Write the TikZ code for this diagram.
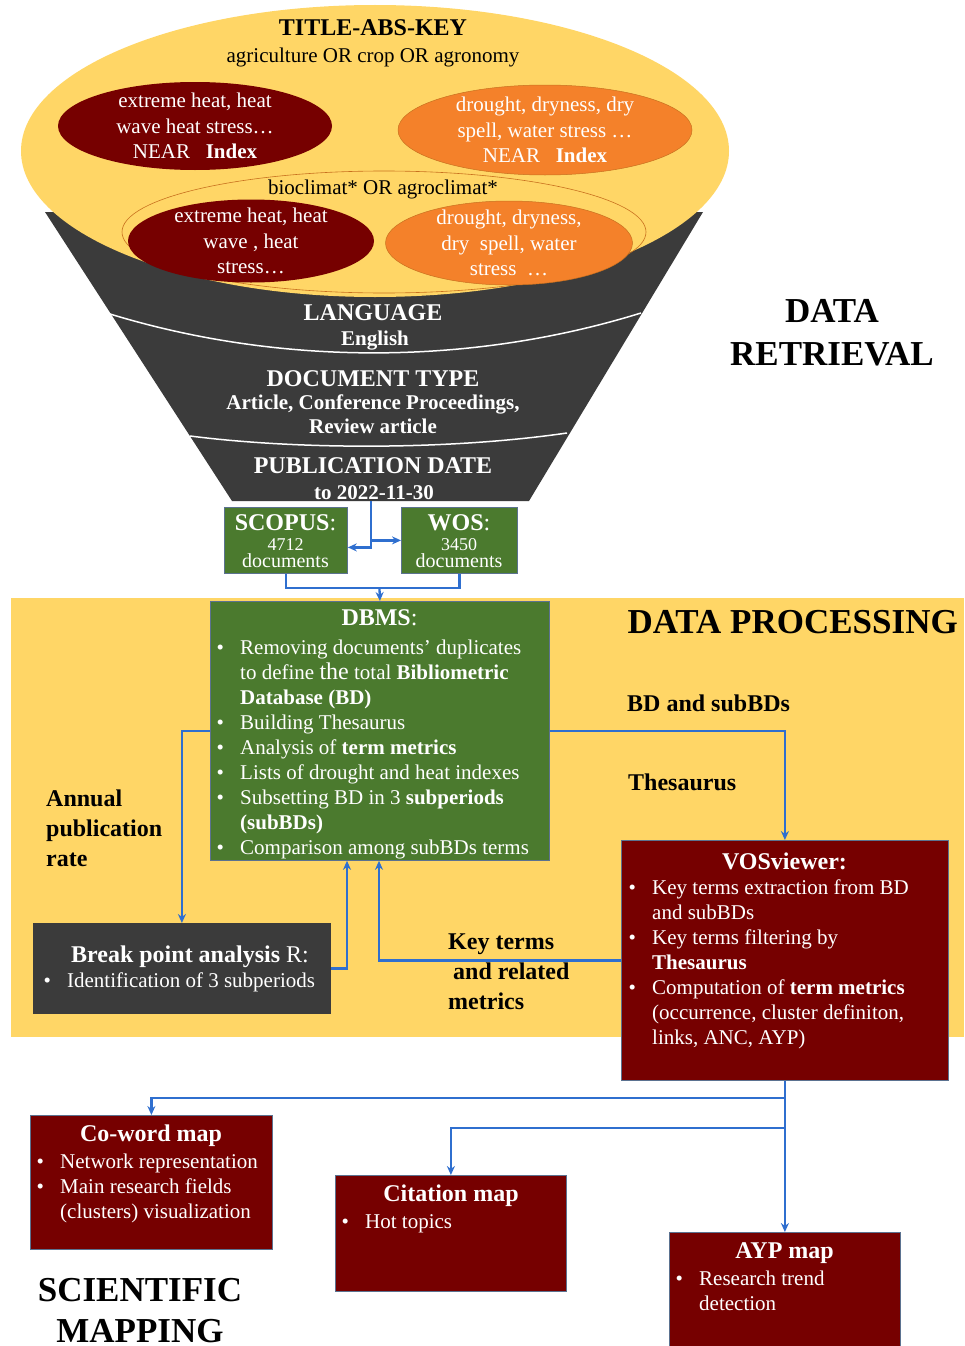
\documentclass[tikz,border=0pt]{standalone}
\usepackage{fontspec}
\setmainfont{Liberation Serif}
\usetikzlibrary{arrows.meta,shapes.geometric,calc}
\definecolor{yel}{HTML}{FFD666}
\definecolor{org}{HTML}{F4812A}
\definecolor{orgb}{HTML}{C8701E}
\definecolor{dred}{HTML}{760000}
\definecolor{grn}{HTML}{4B7A2E}
\definecolor{dgray}{HTML}{3B3B3B}
\definecolor{blu}{HTML}{2F6FCF}
\definecolor{bord}{HTML}{5B7290}
\newlength{\bulw}\setlength{\bulw}{23.5pt}
\newcommand{\bul}{\makebox[\bulw][l]{\textbullet}}
\newcommand{\ind}{\hspace*{\bulw}}
\begin{document}
\begin{tikzpicture}[x=1pt,y=-1pt,
  body/.style={inner sep=0,text=white,align=left,anchor=north west,font=\fontsize{21}{25}\selectfont},
  ttl/.style={inner sep=0,text=white,anchor=base,font=\fontsize{24}{28}\selectfont},
  etxt/.style={inner sep=0,text=white,align=center,font=\fontsize{21}{25.5}\selectfont},
  ftxt/.style={inner sep=0,text=white,anchor=base,font=\bfseries\fontsize{24}{28}\selectfont},
  fsub/.style={inner sep=0,text=white,anchor=base,font=\bfseries\fontsize{21}{25}\selectfont},
  lbl/.style={inner sep=0,text=black,font=\bfseries\fontsize{24}{30}\selectfont},
  big/.style={inner sep=0,text=black,font=\bfseries\fontsize{35}{43}\selectfont},
  box/.style={draw=bord,line width=0.8pt,anchor=north west,inner sep=0},
  ell/.style={ellipse,inner sep=0},
  arr/.style={draw=blu,line width=2.3pt,-{Stealth[length=9pt,width=8pt]}},
  ln/.style={draw=blu,line width=2.3pt},
  sep/.style={draw=white,line width=1.5pt}]
\useasboundingbox (0,0) rectangle (964,1346);

% ---------- DATA RETRIEVAL funnel ----------
\fill[dgray] (45,212) -- (703,212) -- (529,501) -- (232,501) -- cycle;
\draw[sep] (110,314) .. controls (280,366) and (470,366) .. (641,313);
\draw[sep] (190,436) .. controls (300,450) and (450,450) .. (567,433);

\node[ell,fill=yel,minimum width=708pt,minimum height=292pt] (top) at (375,151) {};
\node[ell,draw=orgb,line width=0.6pt,minimum width=524pt,minimum height=122pt] (inner) at (384,232) {};
\node[ell,fill=dred,minimum width=274pt,minimum height=88pt] (e1) at (195,126) {};
\node[ell,fill=org,draw=orgb,line width=0.5pt,minimum width=294pt,minimum height=90pt] (e2) at (545,130) {};
\node[ell,fill=dred,minimum width=246pt,minimum height=83pt] (e3) at (251,241) {};
\node[ell,fill=org,draw=orgb,line width=0.5pt,minimum width=247pt,minimum height=84pt] (e4) at (509,243) {};

\node[inner sep=0,anchor=base,font=\bfseries\fontsize{24}{28}\selectfont] (tak) at (373,36) {TITLE-ABS-KEY};
\node[inner sep=0,anchor=base,font=\fontsize{21}{25}\selectfont] (agr) at (373,63) {agriculture OR crop OR agronomy};
\node[inner sep=0,anchor=base,font=\fontsize{21}{25}\selectfont] (bio) at (383,194) {bioclimat* OR agroclimat*};

\node[etxt] (e1t) at (195,126) {extreme heat, heat\\wave heat stress…\\NEAR\ \ \ \textbf{Index}};
\node[etxt] (e2t) at (545,130) {drought, dryness, dry\\spell, water stress …\\NEAR\ \ \ \textbf{Index}};
\node[etxt] (e3t) at (251,241) {extreme heat, heat\\wave , heat\\stress…};
\node[etxt] (e4t) at (509,243) {drought, dryness,\\dry\ \ spell, water\\stress \ …};

\node[ftxt] (lang) at (373,320) {LANGUAGE};
\node[fsub] (eng) at (375,345) {English};
\node[ftxt] (dtype) at (373,386) {DOCUMENT TYPE};
\node[fsub] (art) at (373,409) {Article, Conference Proceedings,};
\node[fsub] (rev) at (373,433) {Review article};
\node[ftxt] (pdate) at (373,473) {PUBLICATION DATE};
\node[fsub] (todate) at (374,499) {to 2022-11-30};

\node[big,align=center] (dr) at (832,333) {DATA\\RETRIEVAL};

\coordinate (fb) at (371,501);

% ---------- SCOPUS / WOS ----------
\node[box,fill=grn,minimum width=123pt,minimum height=66pt] (scopus) at (224,507) {};
\node[box,fill=grn,minimum width=116pt,minimum height=66pt] (wos) at (401,507) {};
\node[inner sep=0,text=white,align=center,anchor=north,font=\fontsize{20}{17}\selectfont] (scopust) at (285.5,514)
  {{\fontsize{24}{24}\selectfont\textbf{SCOPUS}:}\\[3pt]{\fontsize{18}{18}\selectfont 4712}\\documents};
\node[inner sep=0,text=white,align=center,anchor=north,font=\fontsize{20}{17}\selectfont] (wost) at (459,514)
  {{\fontsize{24}{24}\selectfont\textbf{WOS}:}\\[3pt]{\fontsize{18}{18}\selectfont 3450}\\documents};

\draw[arr] (fb) |- ([yshift=-7pt]scopus.east);
\draw[arr] (fb) |- (wos.west);

% ---------- DATA PROCESSING ----------
\fill[yel] (11,598) rectangle (964,1037);
\node[big,anchor=base east] (dp) at (958,633) {DATA PROCESSING};

\node[box,fill=grn,minimum width=339pt,minimum height=259pt] (dbms) at (210,601) {};
\coordinate (jn) at (379.5,588);
\draw[ln] (scopus.south) |- (jn) -| (wos.south);
\draw[arr] (jn) -- (dbms.north);

\node[ttl] (dbmst) at (379.5,625) {\textbf{DBMS}:};
\node[body] (dbmsi) at (216.5,640) {\bul Removing documents’ duplicates\\
\ind to define {\fontsize{24}{25}\selectfont the} total \textbf{Bibliometric}\\
\ind \textbf{Database (BD)}\\
\bul Building Thesaurus\\
\bul Analysis of \textbf{term metrics}\\
\bul Lists of drought and heat indexes\\
\bul Subsetting BD in 3 \textbf{subperiods}\\
\ind \textbf{(subBDs)}\\
\bul Comparison among subBDs terms};

\node[box,fill=dgray,draw=dgray,minimum width=297pt,minimum height=90pt] (brk) at (33,923) {};
\node[ttl] (brkt) at (190,962) {\textbf{Break point analysis} R:};
\node[body] (brki) at (43.5,973) {\bul Identification of 3 subperiods};

\node[box,fill=dred,minimum width=327pt,minimum height=240pt] (vos) at (621,840) {};
\node[ttl] (vost) at (784.5,869) {\textbf{VOSviewer:}};
\node[body] (vosi) at (628.5,880) {\bul Key terms extraction from BD\\
\ind and subBDs\\
\bul Key terms filtering by\\
\ind \textbf{Thesaurus}\\
\bul Computation of \textbf{term metrics}\\
\ind (occurrence, cluster definiton,\\
\ind links, ANC, AYP)};

\node[lbl,anchor=base west] (l1) at (627,711) {BD and subBDs};
\node[lbl,anchor=base west] (l2) at (628,790) {Thesaurus};
\node[lbl,anchor=north west,align=left] (l3) at (46,790) {Annual\\publication\\rate};
\node[lbl,anchor=north west,align=left] (l4) at (448,934) {Key terms\\\hspace*{5pt}and related\\metrics};

\draw[arr] (dbms.west) -| (brk.north);
\draw[arr] (brk.east) -| ([xshift=137pt]dbms.south west);
\draw[arr] (vos.west) -| ([xshift=169pt]dbms.south west);
\draw[arr] (dbms.east) -| (vos.north);

% ---------- SCIENTIFIC MAPPING ----------
\node[box,fill=dred,minimum width=242pt,minimum height=134pt] (cw) at (30,1115) {};
\node[ttl] (cwt) at (151,1141) {\textbf{Co-word map}};
\node[body] (cwi) at (36.5,1154) {\bul Network representation\\
\bul Main research fields\\
\ind (clusters) visualization};

\node[box,fill=dred,minimum width=231pt,minimum height=116pt] (cit) at (335,1175) {};
\node[ttl] (citt) at (451,1201) {\textbf{Citation map}};
\node[body] (citi) at (341.5,1214) {\bul Hot topics};

\node[box,fill=dred,minimum width=231pt,minimum height=118pt] (ayp) at (669,1232) {};
\node[ttl] (aypt) at (784.5,1258) {\textbf{AYP map}};
\node[body] (aypi) at (675.5,1271) {\bul Research trend\\
\ind detection};

\coordinate (v1) at ($(vos.south)+(0,17)$);
\coordinate (v2) at ($(vos.south)+(0,47)$);
\draw[arr] (vos.south) -- (v1) -| (cw.north);
\draw[arr] (v2) -| (cit.north);
\draw[arr] (vos.south) -- (ayp.north);

\node[big,anchor=north,align=center,font=\bfseries\fontsize{35}{41}\selectfont] (sm) at (140,1278) {SCIENTIFIC\\MAPPING};
\end{tikzpicture}
\end{document}
